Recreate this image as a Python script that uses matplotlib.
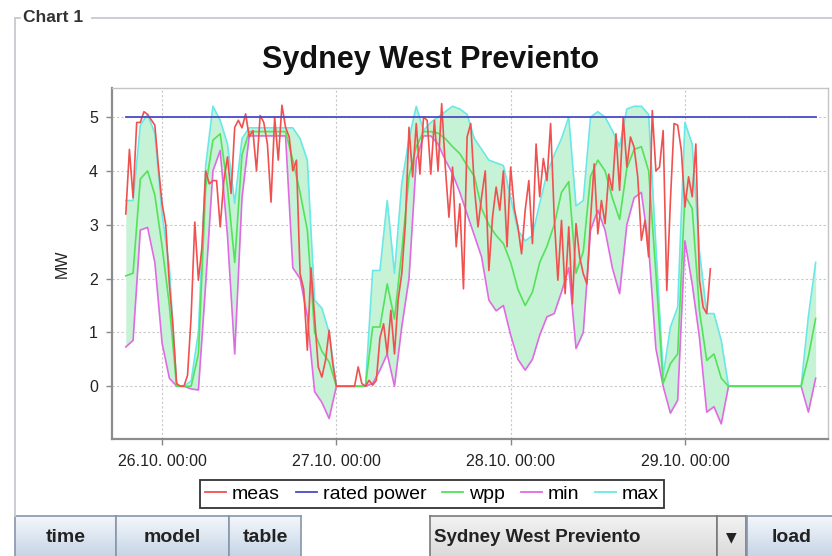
import matplotlib
matplotlib.use('Agg')
import matplotlib.pyplot as plt
import numpy as np
from matplotlib.lines import Line2D

plt.rcParams['font.family'] = ['Liberation Sans', 'DejaVu Sans']

W, H = 832, 556

# time axis: hours counted from 26.10. 00:00
forecast_hours = np.arange(-5, 91)
wpp = [2.05, 2.1, 3.85, 4.0, 3.55, 2.6, 1.5, 0.0, 0.0, 0.0,
       0.6, 3.7, 4.57, 4.69, 3.7, 2.3, 4.3, 4.73, 4.73, 4.73,
       4.73, 4.73, 4.73, 4.2, 3.6, 2.9, 1.0, 0.65, 0.45, 0.0,
       0.0, 0.0, 0.0, 0.0, 1.1, 1.1, 1.9, 1.25, 2.5, 3.9,
       4.45, 4.73, 4.73, 4.7, 4.6, 4.45, 4.32, 4.1, 3.9, 3.3,
       3.0, 2.8, 2.65, 2.3, 1.8, 1.5, 1.75, 2.3, 2.6, 3.0,
       3.6, 3.8, 2.1, 2.5, 3.9, 4.2, 4.0, 3.5, 3.1, 4.05,
       4.4, 4.45, 4.0, 2.1, 0.05, 0.42, 0.6, 3.55, 3.3, 1.4,
       0.48, 0.6, 0.15, 0.0, 0.0, 0.0, 0.0, 0.0, 0.0, 0.0,
       0.0, 0.0, 0.0, 0.0, 0.55, 1.26]
wpp_min = [0.73, 0.85, 2.9, 2.95, 2.3, 0.8, 0.15, 0.0, 0.0, -0.05,
           -0.07, 1.9, 4.0, 4.38, 2.8, 0.6, 3.5, 4.65, 4.65, 4.65,
           4.65, 4.65, 4.65, 2.2, 2.0, 1.3, -0.1, -0.3, -0.6, 0.0,
           0.0, 0.0, 0.0, 0.0, 0.05, 0.3, 0.6, 0.0, 1.1, 2.0,
           4.2, 4.65, 4.65, 4.5, 4.2, 3.95, 3.6, 3.2, 2.8, 2.4,
           1.6, 1.4, 1.5, 0.95, 0.5, 0.3, 0.5, 0.95, 1.29, 1.35,
           1.75, 2.2, 0.7, 1.0, 2.9, 3.27, 2.9, 2.2, 1.72, 3.0,
           3.5, 3.6, 2.6, 0.7, 0.0, -0.5, -0.26, 2.7, 1.9, 0.9,
           -0.48, -0.38, -0.7, 0.0, 0.0, 0.0, 0.0, 0.0, 0.0, 0.0,
           0.0, 0.0, 0.0, 0.0, -0.48, 0.15]
wpp_max = [3.45, 3.45, 4.85, 5.05, 4.7, 3.2, 2.2, 0.0, 0.0, 0.1,
           1.0, 4.1, 5.2, 4.94, 4.5, 3.4, 4.6, 4.8, 4.8, 4.8,
           4.8, 4.8, 4.8, 4.8, 4.6, 4.2, 1.6, 1.45, 1.0, 0.0,
           0.0, 0.0, 0.0, 0.0, 2.15, 2.15, 3.45, 2.1, 3.76, 4.6,
           5.2, 4.75, 4.9, 5.0, 5.1, 5.2, 5.15, 5.05, 4.6, 4.4,
           4.2, 4.15, 4.1, 3.5, 2.9, 2.7, 2.8, 3.4, 3.95, 4.3,
           4.6, 5.0, 3.35, 3.45, 5.0, 5.1, 5.0, 4.75, 4.45, 5.15,
           5.2, 5.2, 5.05, 2.6, 0.2, 1.1, 1.47, 4.9, 4.5, 2.5,
           1.35, 1.35, 0.85, 0.0, 0.0, 0.0, 0.0, 0.0, 0.0, 0.0,
           0.0, 0.0, 0.0, 0.0, 1.3, 2.3]

# measurements every 30 minutes
meas_hours = np.arange(-5, 76, 0.5)
meas = [3.2, 4.4, 3.5, 4.9, 4.9, 5.1, 5.05, 4.95,
        4.85, 4.07, 3.39, 3.0, 1.9, 1.1, 0.05, 0.0,
        0.0, 0.2, 1.3, 3.05, 1.97, 2.6, 4.0, 3.76,
        3.82, 3.82, 2.96, 3.82, 4.26, 3.58, 4.81, 4.94,
        4.8, 5.06, 4.63, 4.75, 4.0, 5.03, 4.9, 4.5,
        3.42, 5.0, 4.2, 5.22, 4.81, 4.63, 4.0, 4.2,
        2.09, 1.8, 0.67, 2.2, 1.29, 0.36, 0.17, 0.48,
        1.04, 0.42, 0.0, 0.0, 0.0, 0.0, 0.0, 0.0,
        0.36, 0.05, 0.0, 0.11, 0.02, 0.11, 0.9, 1.16,
        0.6, 1.41, 0.6, 1.6, 2.09, 3.02, 4.81, 3.89,
        4.88, 3.94, 5.0, 4.94, 3.94, 4.94, 4.0, 5.25,
        4.07, 3.14, 4.07, 2.59, 3.39, 1.81, 4.63, 4.88,
        3.7, 2.96, 3.52, 4.0, 2.15, 3.14, 3.7, 3.27,
        4.0, 2.59, 4.07, 3.3, 2.96, 2.46, 3.27, 3.82,
        2.65, 4.5, 3.52, 4.23, 3.82, 4.88, 3.14, 1.97,
        3.08, 1.72, 2.96, 1.53, 3.02, 2.4, 2.09, 1.9,
        3.1, 4.13, 2.83, 3.45, 3.02, 3.94, 3.64, 4.69,
        3.64, 5.0, 4.07, 4.63, 4.44, 3.89, 2.71, 3.08,
        2.4, 5.12, 4.0, 4.07, 4.75, 1.78, 3.45, 4.88,
        4.85, 4.38, 3.33, 3.89, 3.52, 4.5, 1.97, 1.47,
        1.35, 2.18]

rated_hours = [-5, 90]
rated_power = [5, 5]

day_ticks = [0, 24, 48, 72]
day_labels = ['26.10. 00:00', '27.10. 00:00', '28.10. 00:00', '29.10. 00:00']
mw_ticks = [0, 1, 2, 3, 4, 5]

series_names = ['meas', 'rated power', 'wpp', 'min', 'max']
series_colors = ['#f0514f', '#4a4ac6', '#55e25a', '#e06ae4', '#6ae8e8']
band_color = '#c6f2d6'

buttons_left = ['time', 'model', 'table']
combo_text = 'Sydney West Previento'
load_text = 'load'


def fx(px):
    return px / W


def fy(py):
    return 1 - py / H


def draw_gradient_box(fig, x0, x1, y0, y1, top, bottom, edge):
    """Box with a vertical color gradient, in pixel coords of the figure"""
    bx = fig.add_axes([fx(x0), fy(y1), fx(x1 - x0), (y1 - y0) / H])
    c_top = np.array(matplotlib.colors.to_rgb(top))
    c_bot = np.array(matplotlib.colors.to_rgb(bottom))
    t = np.linspace(0, 1, 64)[:, None]
    grad = (c_top * (1 - t) + c_bot * t)[:, None, :]
    bx.imshow(grad, aspect='auto', extent=[0, 1, 0, 1])
    bx.set_xlim(0, 1)
    bx.set_ylim(0, 1)
    bx.set_xticks([])
    bx.set_yticks([])
    for s in bx.spines.values():
        s.set_color(edge)
        s.set_linewidth(1.2)
    return bx


def main():
    fig = plt.figure(figsize=(W / 100, H / 100), dpi=100)
    fig.patch.set_facecolor('white')

    # titled border "Chart 1"
    border = dict(color='#c6cacf', lw=1.3, transform=fig.transFigure)
    fig.add_artist(Line2D([fx(15), fx(20)], [fy(18), fy(18)], **border))
    fig.add_artist(Line2D([fx(92), fx(832)], [fy(18), fy(18)], **border))
    fig.add_artist(Line2D([fx(15), fx(15)], [fy(18), fy(516)], **border))
    fig.text(fx(23), fy(18), 'Chart 1', fontsize=12.5, fontweight='bold',
             color='#333333', ha='left', va='center')

    fig.text(fx(431), fy(60), 'Sydney West Previento', fontsize=22,
             fontweight='bold', color='#111111', ha='center', va='center')

    ax = fig.add_axes([fx(112), fy(439), fx(828 - 112), (439 - 88) / H])

    ax.fill_between(forecast_hours, wpp_min, wpp_max, color=band_color, lw=0, zorder=1)
    ax.plot(forecast_hours, wpp_max, color=series_colors[4], lw=1.2, zorder=2)
    ax.plot(forecast_hours, wpp_min, color=series_colors[3], lw=1.2, zorder=3)
    ax.plot(forecast_hours, wpp, color=series_colors[2], lw=1.2, zorder=4)
    ax.plot(meas_hours, meas, color=series_colors[0], lw=1.2, zorder=5)
    ax.plot(rated_hours, rated_power, color=series_colors[1], lw=1.3, zorder=6)

    ax.set_xlim(-6.9, 91.7)
    ax.set_ylim(-0.98, 5.54)
    ax.set_xticks(day_ticks)
    ax.set_xticklabels(day_labels)
    ax.set_yticks(mw_ticks)
    ax.tick_params(axis='both', labelsize=11.5, colors='#888888', labelcolor='#222222',
                   length=4, width=1)
    ax.tick_params(axis='x', pad=7)
    ax.tick_params(axis='y', pad=6)
    ax.grid(True, color='#c8c8c8', ls=(0, (2, 2)), lw=0.8)
    ax.set_axisbelow(True)
    ax.set_ylabel('MW', fontsize=11.5, color='#222222')
    ax.yaxis.set_label_coords(-(112 - 70) / (828 - 112), 0.5)

    for side in ['left', 'bottom']:
        ax.spines[side].set_color('#8c8c8c')
        ax.spines[side].set_linewidth(1.6)
    for side in ['top', 'right']:
        ax.spines[side].set_color('#c4c4c4')
        ax.spines[side].set_linewidth(1.0)

    handles = [Line2D([], [], color=c, lw=1.3) for c in series_colors]
    leg = fig.legend(handles, series_names, loc='center', bbox_to_anchor=(fx(432), fy(494)),
                     ncol=5, fontsize=14, frameon=True, fancybox=False,
                     handlelength=1.1, handletextpad=0.3, columnspacing=0.8,
                     borderpad=0.25, borderaxespad=0)
    leg.get_frame().set_edgecolor('black')
    leg.get_frame().set_linewidth(1.3)

    # bottom control bar
    btn_top, btn_bot = 516, 560
    blue_top, blue_bot, blue_edge = '#f4f7fb', '#c2d2e5', '#8796aa'
    spans = [(15, 116), (116, 229), (229, 301)]
    for (x0, x1), label in zip(spans, buttons_left):
        draw_gradient_box(fig, x0, x1, btn_top, btn_bot, blue_top, blue_bot, blue_edge)
        fig.text(fx((x0 + x1) / 2), fy(538), label, fontsize=14, fontweight='bold',
                 color='#222222', ha='center', va='center')

    draw_gradient_box(fig, 430, 717, btn_top, btn_bot, '#f2f2f2', '#d9d9d9', '#7a7a7a')
    fig.text(fx(434), fy(537), combo_text, fontsize=13.5, fontweight='bold',
             color='#222222', ha='left', va='center')
    draw_gradient_box(fig, 717, 746, btn_top, btn_bot, '#f2f2f2', '#d9d9d9', '#7a7a7a')
    fig.text(fx(731.5), fy(537), '\u25bc', fontsize=10, color='#222222',
             ha='center', va='center', family=['DejaVu Sans'])
    draw_gradient_box(fig, 747, 834, btn_top, btn_bot, blue_top, blue_bot, blue_edge)
    fig.text(fx(792), fy(538), load_text, fontsize=14, fontweight='bold',
             color='#222222', ha='center', va='center')

    fig.savefig('out.png', dpi=100)
    plt.close(fig)


if __name__ == "__main__":
    main()
